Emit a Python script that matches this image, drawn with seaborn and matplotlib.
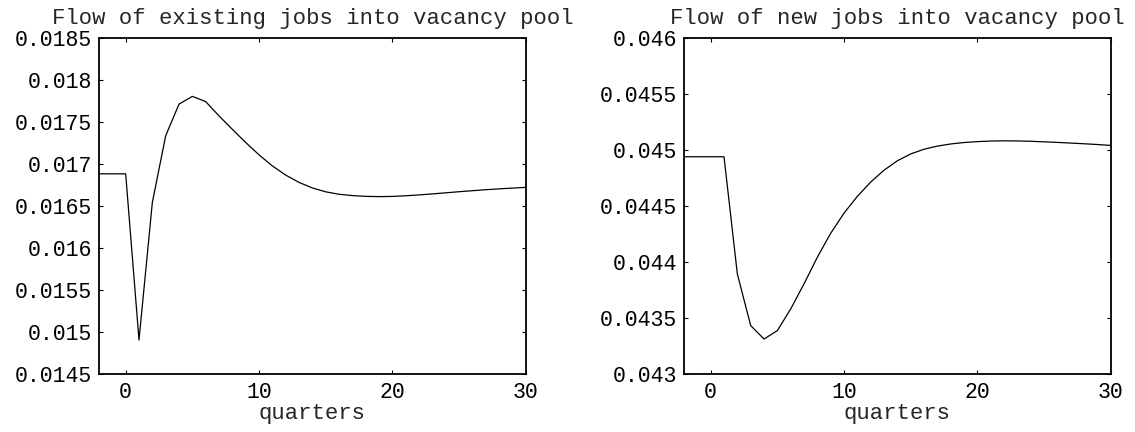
import numpy as np
import pandas as pd
import matplotlib
matplotlib.use("Agg")
import matplotlib.pyplot as plt
import seaborn as sns

# ---- data ----
quarters = list(range(-2, 31))
existing_flow = [0.016881, 0.016881, 0.016881, 0.014905, 0.01654, 0.017333, 0.01771,
                 0.017802, 0.01774, 0.01757, 0.01741, 0.017254, 0.017107, 0.016975,
                 0.016866, 0.016779, 0.016713, 0.016667, 0.016638, 0.016622, 0.016613,
                 0.01661, 0.016612, 0.01662, 0.01663, 0.016642, 0.016655, 0.016668,
                 0.01668, 0.016692, 0.016702, 0.016711, 0.01672]
new_flow = [0.044938, 0.044938, 0.044938, 0.044938, 0.043893, 0.043432, 0.043312,
            0.043387, 0.04358, 0.043804, 0.044042, 0.044255, 0.044435, 0.044585,
            0.044712, 0.044818, 0.044902, 0.044963, 0.045005, 0.045033, 0.045052,
            0.045065, 0.045073, 0.045078, 0.04508, 0.045079, 0.045076, 0.045071,
            0.045066, 0.04506, 0.045054, 0.045047, 0.045039]

titles = ["Flow of existing jobs into vacancy pool", "Flow of new jobs into vacancy pool"]
xlabel = "quarters"
x_ticks = [0, 10, 20, 30]
x_ticklabels = ["0", "10", "20", "30"]
y1_ticks = [0.0145, 0.015, 0.0155, 0.016, 0.0165, 0.017, 0.0175, 0.018, 0.0185]
y1_ticklabels = ["0.0145", "0.015", "0.0155", "0.016", "0.0165", "0.017", "0.0175", "0.018", "0.0185"]
y2_ticks = [0.043, 0.0435, 0.044, 0.0445, 0.045, 0.0455, 0.046]
y2_ticklabels = ["0.043", "0.0435", "0.044", "0.0445", "0.045", "0.0455", "0.046"]

sns.set_style("ticks")
plt.rcParams["font.family"] = ["Liberation Mono", "DejaVu Sans Mono"]

W, H = 1135, 432
fig = plt.figure(figsize=(W / 100, H / 100), dpi=100)
ax_w = 426.7 / W
ax_h = (374 - 37.7) / H
ax_b = 1 - 374 / H
ax1 = fig.add_axes([99 / W, ax_b, ax_w, ax_h])
ax2 = fig.add_axes([684 / W, ax_b, ax_w, ax_h])

df1 = pd.DataFrame({"q": quarters, "v": existing_flow})
df2 = pd.DataFrame({"q": quarters, "v": new_flow})

for ax, df, title, yt, ytl in [(ax1, df1, titles[0], y1_ticks, y1_ticklabels),
                               (ax2, df2, titles[1], y2_ticks, y2_ticklabels)]:
    sns.lineplot(data=df, x="q", y="v", ax=ax, color="black", linewidth=0.9)
    ax.set_xlim(-2, 30)
    ax.set_ylim(yt[0], yt[-1])
    ax.set_xticks(x_ticks)
    ax.set_xticklabels(x_ticklabels)
    ax.set_yticks(yt)
    ax.set_yticklabels(ytl)
    ax.set_xlabel(xlabel, fontsize=16, labelpad=0)
    ax.set_ylabel("")
    ax.set_title(title, fontsize=16, pad=10)
    ax.tick_params(direction="in", length=3, width=0.8, top=True, right=True,
                   labelsize=15.5, colors="black")
    ax.tick_params(axis="x", pad=6)
    ax.tick_params(axis="y", pad=5)
    for s in ax.spines.values():
        s.set_visible(True)
        s.set_linewidth(1.3)
        s.set_color("black")

fig.savefig("out.png", dpi=100, facecolor="white")
